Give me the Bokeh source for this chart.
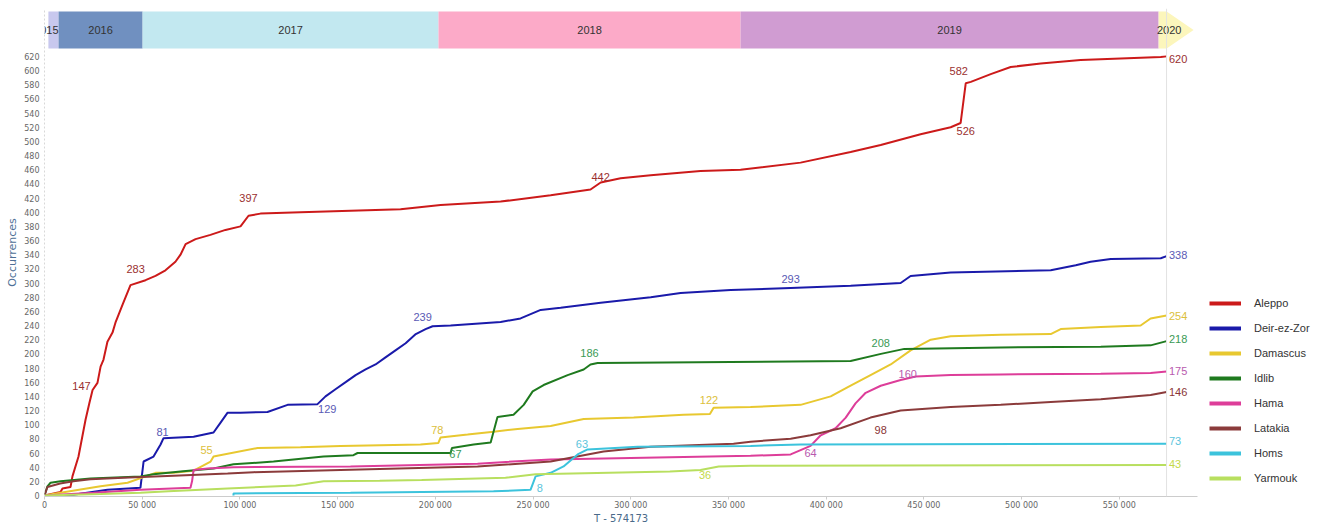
from bokeh.plotting import figure
from bokeh.models import (Range1d, FixedTicker, Span, Legend, LegendItem, ColumnDataSource)
from bokeh.core.properties import value
from bokeh.embed import file_html
from bokeh.resources import INLINE

# ---------------- data (x in thousands of T units) ----------------
series_names = ["Aleppo", "Deir-ez-Zor", "Damascus", "Idlib", "Hama", "Latakia", "Homs", "Yarmouk"]
line_colors = ["#cc1a1a", "#1a1aaa", "#e8c830", "#1f7a1f", "#dd3d99", "#8b3b3b", "#3cc3dc", "#b8df5f"]
label_colors = ["#9a3030", "#5a5ab5", "#dcc03c", "#3a9a55", "#b85aae", "#8a3535", "#5cc4dc", "#c4d94a"]

aleppo_x = [0, 8.2, 9.2, 13.3, 14.3, 17.4, 21.0, 23.0, 24.6, 27.1, 28.7, 30.2, 32.2, 34.8, 36.3, 40,
            44.0, 51.7, 56.8, 61.9, 67.0, 69.6, 72.2, 77.3, 84.9, 92.6, 100.3, 104.4, 110.5, 131.0,
            182.2, 202.7, 233.4, 259.0, 279.4, 284.6, 294.8, 310.2, 335.7, 356.2, 386.9, 412.5,
            427.9, 448.3, 463.7, 468.8, 471.4, 474.0, 484.2, 494.4, 509.8, 530.2, 550.7, 571.2, 574.2]
aleppo_y = [0, 5, 10, 12, 27, 55, 107, 131, 149, 159, 182, 192, 217, 230, 244, 270,
            297, 304, 310, 318, 330, 340, 355, 362, 368, 375, 380, 395, 398, 400,
            404, 410, 415, 424, 432, 442, 448, 452, 458, 460, 470, 485,
            495, 510, 520, 526, 582, 584, 595, 605, 610, 615, 617, 619, 620]

deir_x = [0, 14.8, 32.2, 49.1, 50.7, 55.8, 59.4, 60.9, 76.3, 86.5, 90.1, 93.7, 100.3, 114.1, 124.4,
          139.7, 143.8, 148.9, 154.1, 159.2, 164.3, 169.4, 174.5, 179.6, 184.8, 190.0, 195.0, 198.6,
          207.8, 233.4, 243.6, 253.9, 264.1, 284.6, 310.2, 325.5, 351.1, 381.8, 412.5, 438.1, 443.2,
          463.7, 514.9, 527.7, 535.3, 545.6, 571.2, 574.2]
deir_y = [0, 1, 8, 11, 48, 55, 72, 81, 83, 89, 103, 117, 117, 118, 128,
          129, 140, 150, 160, 170, 178, 185, 195, 205, 215, 228, 235, 239,
          240, 245, 250, 262, 265, 272, 280, 286, 290, 293, 296, 300, 310,
          315, 318, 325, 330, 334, 335, 338]

damascus_x = [0, 8.2, 28.7, 42.5, 56.8, 66.0, 76.3, 85.0, 86.5, 109.0, 131.0, 151.5, 192.4, 201.5,
              202.7, 216.5, 229.8, 242.1, 259.0, 275.9, 301.5, 327.0, 340.5, 342.4, 361.3, 386.9,
              402.3, 412.5, 422.7, 433.0, 443.2, 453.5, 463.7, 489.3, 514.9, 520.0, 540.5, 560.9,
              566.0, 574.2]
damascus_y = [0, 4, 13, 18, 32, 32, 35, 48, 55, 67, 68, 70, 72, 74,
              82, 86, 90, 94, 98, 108, 110, 114, 115, 124, 125, 128,
              140, 155, 170, 185, 205, 220, 225, 227, 228, 235, 238, 240,
              250, 254]

idlib_x = [0, 1.5, 3.1, 8.2, 23.5, 49.1, 55.8, 69.6, 86.5, 96.7, 117.2, 142.8, 158.1, 160.2, 207.8,
           208.5, 219.6, 228.3, 231.8, 240.0, 245.2, 249.8, 255.4, 267.7, 275.9, 279.4, 283.0,
           412.5, 428.0, 440.0, 489.3, 540.5, 566.0, 574.2]
idlib_y = [0, 13, 18, 20, 24, 27, 30, 34, 38, 44, 48, 55, 57, 60, 60,
           67, 72, 75, 111, 114, 128, 147, 156, 170, 178, 185, 187,
           190, 200, 207, 209, 210, 212, 218]

hama_x = [0, 25.1, 49.1, 74.7, 75.5, 76.3, 83.4, 96.7, 156.6, 221.6, 259.0, 361.3, 381.8, 392.0,
          397.2, 404.8, 410.0, 415.0, 420.2, 427.9, 438.1, 445.8, 463.7, 489.3, 540.5, 566.0, 574.2]
hama_y = [0, 4, 8, 11, 20, 36, 38, 40, 41, 45, 51, 56, 58, 70,
          85, 95, 110, 130, 145, 155, 163, 168, 170, 171, 172, 173, 175]

latakia_x = [0, 1.5, 8.0, 14.8, 23.5, 40.4, 66.0, 93.7, 107.0, 151.5, 221.6, 259.0, 286.1, 310.2,
             352.6, 361.3, 381.8, 392.0, 407.4, 422.7, 438.1, 463.7, 489.3, 514.9, 540.5, 566.0, 574.2]
latakia_y = [0, 12, 17, 20, 23, 25, 28, 31, 33, 36, 41, 48, 62, 69,
             73, 76, 80, 85, 95, 110, 120, 125, 128, 132, 136, 142, 146]

homs_x = [96.7, 96.7, 156.6, 229.8, 248.7, 251.3, 259.0, 265.6, 272.8, 277.9, 303.5, 361.3, 386.9, 574.2]
homs_y = [0, 3, 4, 6, 8, 27, 32, 41, 58, 65, 69, 70, 72, 73]

yarmouk_x = [0, 28.7, 49.1, 63.5, 93.7, 128.5, 142.8, 171.5, 193.0, 235.9, 251.3, 301.5, 320.0,
             335.7, 345.0, 361.3, 574.2]
yarmouk_y = [0, 2, 4, 6, 10, 14, 20, 21, 22, 25, 30, 33, 34, 36, 41, 42, 43]

series_x = [aleppo_x, deir_x, damascus_x, idlib_x, hama_x, latakia_x, homs_x, yarmouk_x]
series_y = [aleppo_y, deir_y, damascus_y, idlib_y, hama_y, latakia_y, homs_y, yarmouk_y]

# point annotations: (series index, x in thousands, y value, text)
ann_series = [0, 0, 0, 0, 0, 0, 1, 1, 1, 1, 2, 2, 2, 3, 3, 3, 4, 4, 5, 6, 6, 7]
ann_x = [18.9, 46.6, 104.4, 284.6, 467.8, 471.4, 60.4, 144.7, 193.5, 381.8, 82.9, 201.0, 340.0,
         210.3, 278.9, 427.9, 392.0, 441.7, 427.9, 253.4, 275.0, 338.0]
ann_y = [155, 320, 420, 450, 600, 515, 90, 122, 252, 306, 64, 92, 135,
         58, 201, 215, 60, 171, 93, 11, 73, 29]
ann_text = ["147", "283", "397", "442", "582", "526", "81", "129", "239", "293", "55", "78", "122",
            "67", "186", "208", "64", "160", "98", "8", "63", "36"]

end_values = [620, 338, 254, 218, 175, 146, 73, 43]
end_label_y = [617, 339, 254, 221, 176, 146.5, 77, 44]
T_END = 574173

years = ["2015", "2016", "2017", "2018", "2019"]
year_start = [2.0, 7.2, 50.2, 201.6, 356.2]
year_end = [7.2, 50.2, 201.6, 356.2, 570.1]
year_colors = ["#c8c8ee", "#7090c0", "#c2e8f0", "#fcaac8", "#d09cd2"]
last_year = "2020"
last_year_color = "#fcf6bc"
arrow_x = [570.1, 574.2, 588.0, 574.2, 570.1]

x_ticks = [0, 50000, 100000, 150000, 200000, 250000, 300000, 350000, 400000, 450000, 500000, 550000]
y_ticks = list(range(0, 621, 20))

# ---------------- figure ----------------
K = 1000.0
p = figure(frame_width=1153, frame_height=488, x_range=Range1d(0, 590000),
           y_range=Range1d(-1.4, 687.6), output_backend="svg", toolbar_location=None,
           min_border_left=44, min_border_top=8, min_border_right=0, min_border_bottom=0,
           outline_line_color=None, background_fill_color="white", border_fill_color="white")
p.xgrid.visible = False
p.ygrid.visible = False

band_top, band_bottom, band_mid = 683.4, 631.3, 657.3
bsrc = ColumnDataSource(dict(left=[v * K for v in year_start], right=[v * K for v in year_end],
                             color=year_colors, year=years,
                             cx=[(a + b) / 2 * K for a, b in zip(year_start, year_end)]))
p.quad(left="left", right="right", bottom=band_bottom, top=band_top, fill_color="color",
       line_color=None, source=bsrc)
p.patch([v * K for v in arrow_x], [band_top, band_top, band_mid, band_bottom, band_bottom],
        fill_color=last_year_color, line_color=None)
ysrc = ColumnDataSource(dict(x=bsrc.data["cx"][1:] + [575.5 * K], y=[band_mid] * 5,
                             t=years[1:] + [last_year]))
p.text(x="x", y="y", text="t", source=ysrc, text_font=value("Liberation Sans"),
       text_font_size="11px", text_color="#333333", text_align="center", text_baseline="middle")
p.text(x=[year_end[0] * K], y=[band_mid], text=[years[0]], text_font=value("Liberation Sans"),
       text_font_size="11px", text_color="#333333", text_align="right", text_baseline="middle")

p.add_layout(Span(location=T_END, dimension="height", line_color="#e2e2e2", line_width=1))

for xs, ys, c in zip(series_x, series_y, line_colors):
    p.line([v * K for v in xs], ys, line_color=c, line_width=2)

# annotations
asrc = ColumnDataSource(dict(x=[v * K for v in ann_x], y=ann_y, t=ann_text,
                             c=[label_colors[i] for i in ann_series]))
p.text(x="x", y="y", text="t", text_color="c", source=asrc, text_font=value("Liberation Sans"),
       text_font_size="11px", text_align="center", text_baseline="middle")
esrc = ColumnDataSource(dict(x=[T_END + 1200] * 8, y=end_label_y, t=[str(v) for v in end_values],
                             c=label_colors))
p.text(x="x", y="y", text="t", text_color="c", source=esrc, text_font=value("Liberation Sans"),
       text_font_size="11px", text_align="left", text_baseline="middle")

# legend proxies (thick lines, single point so nothing is drawn in the plot)
items = []
for name, c, xs, ys in zip(series_names, line_colors, series_x, series_y):
    r = p.line(x=[xs[-1] * K], y=[ys[-1]], line_color=c, line_width=4)
    items.append(LegendItem(label=name, renderers=[r]))
legend = Legend(items=items, location=(12, 8), glyph_width=32, glyph_height=20,
                label_height=20, spacing=5, padding=10, margin=0, label_standoff=13,
                border_line_color=None, background_fill_alpha=0,
                label_text_font="Liberation Sans", label_text_font_size="11px",
                label_text_color="#333333")
p.add_layout(legend, "right")

# axes
p.xaxis.ticker = FixedTicker(ticks=x_ticks)
p.xaxis.major_label_overrides = {t: ("{:,}".format(t).replace(",", " ")) for t in x_ticks}
p.xaxis.axis_label = "T - 574173"
p.xaxis.axis_label_text_font = "DejaVu Sans"
p.xaxis.axis_label_text_font_size = "10px"
p.xaxis.axis_label_text_font_style = "normal"
p.xaxis.axis_label_text_color = "#4a6a8a"
p.xaxis.axis_label_standoff = 0
p.xaxis.major_label_standoff = 1
p.xaxis.major_label_text_font = "DejaVu Sans"
p.xaxis.major_label_text_font_size = "8px"
p.xaxis.major_label_text_color = "#666666"
p.xaxis.axis_line_color = "#cccccc"
p.xaxis.major_tick_line_color = "#cccccc"
p.xaxis.major_tick_out = 3
p.xaxis.major_tick_in = 0
p.xaxis.minor_tick_line_color = None

p.yaxis.ticker = FixedTicker(ticks=y_ticks)
p.yaxis.axis_label = "Occurrences"
p.yaxis.axis_label_text_font = "DejaVu Sans"
p.yaxis.axis_label_text_font_size = "11px"
p.yaxis.axis_label_text_font_style = "normal"
p.yaxis.axis_label_text_color = "#4e7096"
p.yaxis.axis_label_standoff = 2
p.yaxis.major_label_standoff = 5
p.yaxis.major_label_text_font = "DejaVu Sans"
p.yaxis.major_label_text_font_size = "8px"
p.yaxis.major_label_text_color = "#666666"
p.yaxis.axis_line_color = "#d8d8d8"
p.yaxis.axis_line_dash = "2 2"
p.yaxis.major_tick_line_color = None
p.yaxis.major_tick_out = 0
p.yaxis.major_tick_in = 0
p.yaxis.minor_tick_line_color = None

open("out.html", "w").write(file_html(p, INLINE))
